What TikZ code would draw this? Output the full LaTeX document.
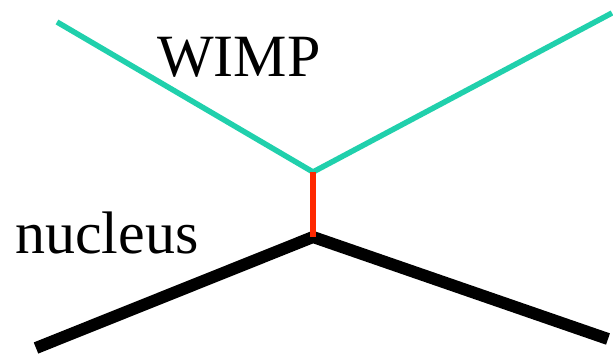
\documentclass[tikz,border=0pt]{standalone}
\usepackage{fontspec}
\setmainfont{Liberation Serif}
\definecolor{wimpcol}{RGB}{32,208,172}
\definecolor{exchcol}{RGB}{255,40,0}
\begin{document}
\begin{tikzpicture}[x=1pt,y=-1pt,
  wimpline/.style={draw=wimpcol,line width=5.5pt,line join=miter},
  exchline/.style={draw=exchcol,line width=5.5pt},
  nucline/.style={draw=black,line width=12pt,line join=miter},
  lbl/.style={inner sep=0pt,font=\fontsize{60}{64}\selectfont}]
\useasboundingbox (0,0) rectangle (613,358);
% vertices and external legs
\coordinate (win)  at (57,22);
\coordinate (wout) at (612,13);
\coordinate (wv)   at (313,172);
\coordinate (nv)   at (313,237);
\coordinate (nin)  at (36,348);
\coordinate (nout) at (608,339);
% particle lines
\draw[wimpline] (win) -- (wv) -- (wout);
\draw[nucline] (nin) -- (nv) -- (nout);
\draw[exchline] (wv) -- (nv);
% labels
\node[lbl,anchor=base] (wimp) at (239,77) {WIMP};
\node[lbl,anchor=base west] (nuc) at (15,253) {nucleus};
\end{tikzpicture}
\end{document}
